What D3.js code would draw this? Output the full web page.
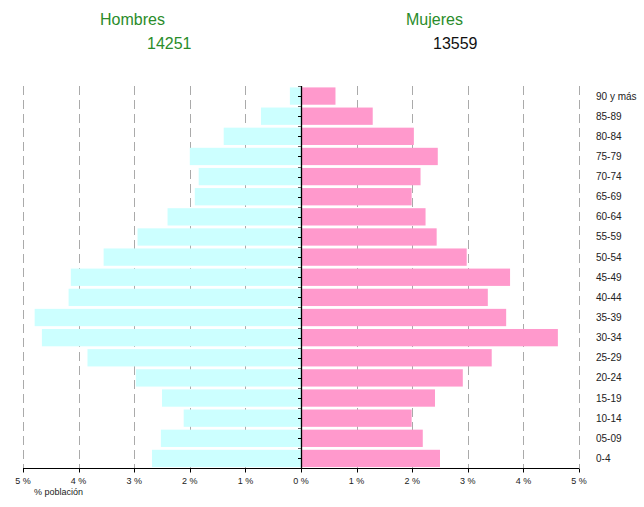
<!DOCTYPE html>
<html>
<head>
<meta charset="utf-8">
<script src="https://cdn.jsdelivr.net/npm/d3@7"></script>
<style>
  body { margin: 0; background: #fff; }
  text { font-family: "Liberation Sans", Arial, sans-serif; }
</style>
</head>
<body>
<svg id="chart" width="644" height="507"></svg>
<script>
// grupos de edad, de arriba a abajo
const edades = ["90 y más", "85-89", "80-84", "75-79", "70-74", "65-69", "60-64", "55-59", "50-54",
  "45-49", "40-44", "35-39", "30-34", "25-29", "20-24", "15-19", "10-14", "05-09", "0-4"];
// % de poblacion
const hombres = [0.20, 0.72, 1.39, 2.00, 1.84, 1.91, 2.40, 2.94, 3.55,
  4.14, 4.18, 4.79, 4.66, 3.84, 2.97, 2.50, 2.11, 2.52, 2.68];
const mujeres = [0.62, 1.29, 2.03, 2.46, 2.15, 1.99, 2.24, 2.44, 2.98,
  3.76, 3.36, 3.69, 4.62, 3.43, 2.91, 2.41, 1.99, 2.19, 2.50];
const ticks = [0, 1, 2, 3, 4, 5];
const totalH = "14251", totalM = "13559";

const svg = d3.select("#chart");
const x0 = 301, yTop = 86, yBottom = 468.5;

const xL = d3.scaleLinear().domain([0, 5]).range([x0, 23]);
const xR = d3.scaleLinear().domain([0, 5]).range([x0, 579]);
const y = d3.scaleBand().domain(edades).range([yTop, yBottom]).paddingInner(0.14).paddingOuter(0.07);

// grid discontinuo
const grid = svg.append("g");
ticks.filter(t => t > 0).forEach(t => {
  [xL(t), xR(t)].forEach(px => {
    grid.append("line")
      .attr("x1", Math.round(px) + 0.5).attr("x2", Math.round(px) + 0.5)
      .attr("y1", yTop).attr("y2", yBottom)
      .attr("stroke", "#aaa").attr("stroke-width", 1)
      .attr("stroke-dasharray", "9,5");
  });
});

// barras
svg.append("g").selectAll("rect")
  .data(edades)
  .enter().append("rect")
  .attr("x", (d, i) => xL(hombres[i]))
  .attr("y", d => y(d))
  .attr("width", (d, i) => x0 - xL(hombres[i]))
  .attr("height", y.bandwidth())
  .attr("fill", "#ccffff");

svg.append("g").selectAll("rect")
  .data(edades)
  .enter().append("rect")
  .attr("x", x0)
  .attr("y", d => y(d))
  .attr("width", (d, i) => xR(mujeres[i]) - x0)
  .attr("height", y.bandwidth())
  .attr("fill", "#ff99cc");

// eje central
const eje = svg.append("g");
eje.append("line")
  .attr("x1", x0 + 0.5).attr("x2", x0 + 0.5)
  .attr("y1", yTop).attr("y2", yBottom)
  .attr("stroke", "#000").attr("stroke-width", 1.3);
edades.forEach(d => {
  const yc = y(d) + y.bandwidth() / 2;
  eje.append("line").attr("x1", x0 - 3).attr("x2", x0)
    .attr("y1", Math.round(yc) + 0.5).attr("y2", Math.round(yc) + 0.5)
    .attr("stroke", "#000");
  const yb = y(d) - (y.step() - y.bandwidth()) / 2;
  eje.append("line").attr("x1", x0 - 3).attr("x2", x0)
    .attr("y1", Math.round(yb) + 0.5).attr("y2", Math.round(yb) + 0.5)
    .attr("stroke", "#666");
});

// etiquetas de edad
svg.append("g").selectAll("text")
  .data(edades)
  .enter().append("text")
  .attr("x", 596)
  .attr("y", d => y(d) + y.bandwidth() / 2 + 3.5)
  .attr("font-size", 10)
  .attr("fill", "#222")
  .text(d => d);

// eje inferior
const ejeX = svg.append("g");
ejeX.append("line")
  .attr("x1", xL(5)).attr("x2", xR(5))
  .attr("y1", yBottom).attr("y2", yBottom)
  .attr("stroke", "#000").attr("stroke-width", 1.2);
const todos = ticks.slice(1).reverse().map(t => ({ v: t, px: xL(t) }))
  .concat(ticks.map(t => ({ v: t, px: xR(t) })));
todos.forEach(t => {
  ejeX.append("line")
    .attr("x1", Math.round(t.px) + 0.5).attr("x2", Math.round(t.px) + 0.5)
    .attr("y1", yBottom).attr("y2", yBottom + 4)
    .attr("stroke", "#000");
  ejeX.append("text")
    .attr("x", t.px).attr("y", 484)
    .attr("text-anchor", "middle")
    .attr("font-size", 9).attr("fill", "#222")
    .text(t.v + " %");
});
ejeX.append("text")
  .attr("x", 34).attr("y", 495)
  .attr("font-size", 9).attr("fill", "#222")
  .text("% población");

// titulos
const verde = "#2a8c2a";
svg.append("text").attr("x", 100).attr("y", 25).attr("font-size", 16).attr("fill", verde).text("Hombres");
svg.append("text").attr("x", 147).attr("y", 49).attr("font-size", 16).attr("fill", verde).text(totalH);
svg.append("text").attr("x", 406).attr("y", 25).attr("font-size", 16).attr("fill", verde).text("Mujeres");
svg.append("text").attr("x", 433).attr("y", 49).attr("font-size", 16).attr("fill", "#111").text(totalM);
</script>
</body>
</html>
